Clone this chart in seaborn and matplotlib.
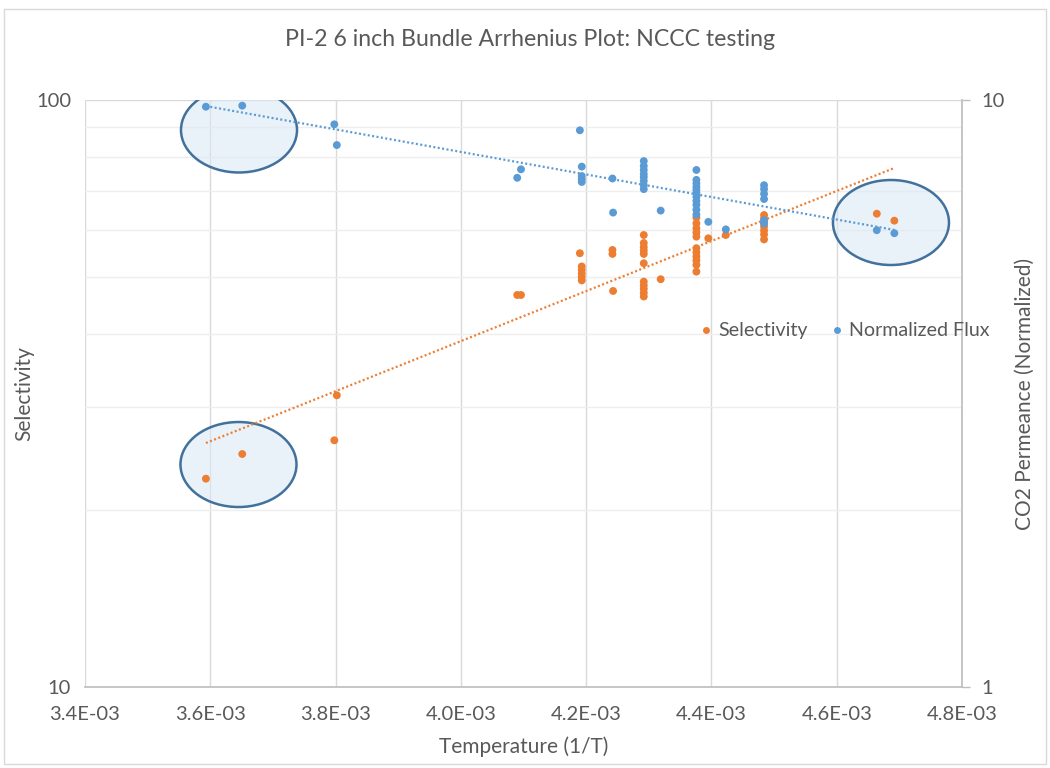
import numpy as np
import pandas as pd
import matplotlib
matplotlib.use("Agg")
import matplotlib.pyplot as plt
from matplotlib.patches import Ellipse, Rectangle
from matplotlib.lines import Line2D
from matplotlib.ticker import FixedLocator, FuncFormatter, NullFormatter
import seaborn as sns

# Inverse temperature (1/T) and selectivity readings
sel_x = [3.593e-3, 3.651e-3, 3.802e-3, 3.798e-3, 4.090e-3, 4.096e-3,
         4.190e-3, 4.193e-3, 4.193e-3, 4.193e-3, 4.193e-3, 4.193e-3,
         4.242e-3, 4.242e-3, 4.243e-3,
         4.292e-3, 4.292e-3, 4.292e-3, 4.292e-3, 4.292e-3, 4.292e-3,
         4.292e-3, 4.292e-3, 4.292e-3, 4.292e-3, 4.292e-3,
         4.319e-3,
         4.376e-3, 4.376e-3, 4.376e-3, 4.376e-3, 4.376e-3, 4.376e-3,
         4.376e-3, 4.376e-3, 4.376e-3, 4.376e-3, 4.376e-3,
         4.395e-3, 4.423e-3,
         4.484e-3, 4.484e-3, 4.484e-3, 4.484e-3, 4.484e-3, 4.484e-3, 4.484e-3,
         4.664e-3, 4.692e-3]
sel_y = [22.64, 24.94, 31.40, 26.32, 46.54, 46.54,
         54.82, 52.05, 51.35, 50.65, 49.96, 49.28,
         55.53, 54.67, 47.28,
         58.89, 57.07, 56.18, 55.42, 54.67, 52.71,
         49.05, 48.33, 47.67, 46.93, 46.26,
         49.51,
         63.07, 61.65, 60.46, 59.47, 58.50, 55.92,
         55.01, 54.13, 53.29, 52.36, 51.00,
         58.13, 58.89,
         63.69, 62.83, 61.85, 60.89, 59.94, 59.01, 57.87,
         64.02, 62.29]

# Inverse temperature (1/T) and normalized CO2 flux readings
flux_x = [3.593e-3, 3.651e-3, 3.798e-3, 3.802e-3, 4.090e-3, 4.096e-3,
          4.190e-3, 4.193e-3, 4.193e-3, 4.193e-3, 4.193e-3,
          4.242e-3, 4.243e-3,
          4.292e-3, 4.292e-3, 4.292e-3, 4.292e-3, 4.292e-3, 4.292e-3,
          4.292e-3, 4.292e-3,
          4.319e-3,
          4.376e-3, 4.376e-3, 4.376e-3, 4.376e-3, 4.376e-3, 4.376e-3,
          4.376e-3, 4.376e-3, 4.376e-3, 4.376e-3, 4.376e-3,
          4.395e-3, 4.423e-3,
          4.484e-3, 4.484e-3, 4.484e-3, 4.484e-3, 4.484e-3, 4.484e-3,
          4.664e-3, 4.692e-3]
flux_y = [9.74, 9.78, 9.09, 8.38, 7.37, 7.62,
          8.88, 7.70, 7.42, 7.33, 7.25,
          7.35, 6.43,
          7.87, 7.72, 7.60, 7.48, 7.39, 7.28,
          7.16, 7.05,
          6.48,
          7.60, 7.31, 7.21, 7.11, 7.03, 6.94,
          6.84, 6.73, 6.63, 6.50, 6.38,
          6.20, 6.02,
          7.16, 7.05, 6.92, 6.78, 6.24, 6.16,
          6.00, 5.93]

x_ticks = [3.4e-3, 3.6e-3, 3.8e-3, 4.0e-3, 4.2e-3, 4.4e-3, 4.6e-3, 4.8e-3]

sel_df = pd.DataFrame({"inv_T": sel_x, "Selectivity": sel_y})
flux_df = pd.DataFrame({"inv_T": flux_x, "Flux": flux_y})

ORANGE = "#ED7D31"
BLUE = "#5B9BD5"
TEXT = "#595959"
GRID = "#D9D9D9"
MINOR_GRID = "#EEEEEE"

sns.set_theme(style="white")
plt.rcParams["font.family"] = ["Lato", "DejaVu Sans"]

W, H = 1050, 768
fig = plt.figure(figsize=(W / 100, H / 100), dpi=100)
ax = fig.add_axes([85 / W, 1 - 687 / H, 877 / W, 587 / H])
ax2 = ax.twinx()

# axes scales
ax.set_xlim(3.4e-3, 4.8e-3)
ax.set_yscale("log")
ax.set_ylim(10, 100)
ax2.set_yscale("log")
ax2.set_ylim(1, 10)

# gridlines
ax.xaxis.set_major_locator(FixedLocator(x_ticks))
ax.yaxis.set_major_locator(FixedLocator([10, 100]))
ax.yaxis.set_minor_locator(FixedLocator([20, 30, 40, 50, 60, 70, 80, 90]))
ax.yaxis.set_minor_formatter(NullFormatter())
ax.grid(True, which="major", axis="x", color=GRID, lw=1.0)
ax.grid(True, which="major", axis="y", color=GRID, lw=1.0)
ax.grid(True, which="minor", axis="y", color=MINOR_GRID, lw=1.0)
ax.set_axisbelow(True)

ax.xaxis.set_major_formatter(FuncFormatter(lambda v, p: f"{v:.1E}"))
ax.yaxis.set_major_formatter(FuncFormatter(lambda v, p: f"{v:g}"))
ax2.yaxis.set_major_locator(FixedLocator([1, 10]))
ax2.yaxis.set_major_formatter(FuncFormatter(lambda v, p: f"{v:g}"))
ax2.yaxis.set_minor_locator(FixedLocator([]))
ax2.yaxis.set_minor_formatter(NullFormatter())

for a in (ax, ax2):
    for s in a.spines.values():
        s.set_visible(False)
ax.spines["bottom"].set_visible(True)
ax.spines["bottom"].set_color("#BFBFBF")
ax2.spines["right"].set_visible(True)
ax2.spines["right"].set_color("#BFBFBF")

TICK_FS = 14.5
LABEL_FS = 15
ax.tick_params(axis="x", length=0, pad=14, labelsize=TICK_FS, labelcolor=TEXT)
ax.tick_params(axis="y", which="both", length=0, pad=10, labelsize=TICK_FS, labelcolor=TEXT)
ax2.tick_params(axis="y", length=6, width=1, color="#BFBFBF", pad=8,
                labelsize=TICK_FS, labelcolor=TEXT)

# highlight ellipses
for cx, cy in [(0.1756, 0.9489), (0.1750, 0.3790), (0.9190, 0.7913)]:
    ax.add_patch(Ellipse((cx, cy), 0.1323, 0.1448, transform=ax.transAxes,
                         facecolor="#DAE8F5", alpha=0.55, edgecolor="none", zorder=1))
    ax.add_patch(Ellipse((cx, cy), 0.1323, 0.1448, transform=ax.transAxes,
                         facecolor="none", edgecolor="#41719C", lw=1.8, zorder=1.1))

# scatter series
sns.scatterplot(data=sel_df, x="inv_T", y="Selectivity", ax=ax, color=ORANGE,
                s=32, edgecolor="none", zorder=3, legend=False)
sns.scatterplot(data=flux_df, x="inv_T", y="Flux", ax=ax2, color=BLUE,
                s=32, edgecolor="none", zorder=3, legend=False)

# exponential trendlines (linear fit in log space)
def exp_fit(xs, ys):
    xs = np.asarray(xs)
    k, b = np.polyfit(xs, np.log(np.asarray(ys)), 1)
    xx = np.linspace(xs.min(), xs.max(), 200)
    return xx, np.exp(k * xx + b)

sx, sy = exp_fit(sel_x, sel_y)
ax.plot(sx, sy, color=ORANGE, lw=1.6, ls=(0, (0.9, 1.1)), zorder=2)
fx, fy = exp_fit(flux_x, flux_y)
ax2.plot(fx, fy, color=BLUE, lw=1.6, ls=(0, (0.9, 1.1)), zorder=2)

ax2.set_xlim(3.4e-3, 4.8e-3)
ax.set_xlabel("Temperature (1/T)", fontsize=LABEL_FS, color=TEXT)
ax.xaxis.set_label_coords(0.5, -0.084, transform=ax.transAxes)
ax.set_ylabel("Selectivity", fontsize=LABEL_FS, color=TEXT, va="center")
ax.yaxis.set_label_coords(-0.069, 0.5)
ax2.set_ylabel("CO2 Permeance (Normalized)", fontsize=LABEL_FS, color=TEXT,
               va="center", rotation=90)
ax2.yaxis.set_label_coords(1.0718, 0.5)

fig.text(530 / W, 1 - 40 / H, "PI-2 6 inch Bundle Arrhenius Plot: NCCC testing",
         ha="center", va="center", fontsize=16.7, color=TEXT)

handles = [Line2D([], [], ls="none", marker="o", ms=5, color=ORANGE, mec="none"),
           Line2D([], [], ls="none", marker="o", ms=5, color=BLUE, mec="none")]
leg = ax2.legend(handles, ["Selectivity", "Normalized Flux"], loc="center left",
                 bbox_to_anchor=(0.686, 0.6065), ncol=2, frameon=False,
                 fontsize=14.1, handlelength=0.6, handletextpad=0.3,
                 columnspacing=1.2, labelcolor=TEXT, borderpad=0.2)

# chart-area border
fig.patches.append(Rectangle((4 / W, 4 / H), 1 - 8 / W, 1 - 13 / H,
                             transform=fig.transFigure, fill=False,
                             edgecolor="#D9D9D9", lw=1))

fig.savefig("out.png", dpi=100)
